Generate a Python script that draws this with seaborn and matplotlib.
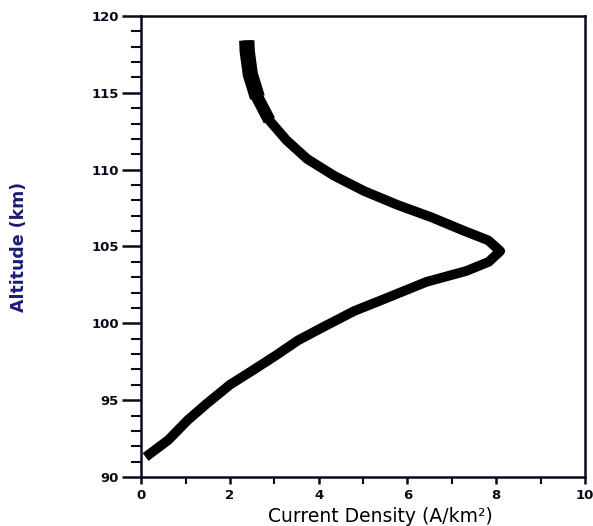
import matplotlib
matplotlib.use("Agg")
import matplotlib.pyplot as plt
from matplotlib.ticker import MultipleLocator
import seaborn as sns
import pandas as pd

# Data
current_density = [0.10, 0.61, 1.05, 1.49, 2.00, 2.52, 3.03, 3.54, 4.13, 4.80,
                   5.45, 6.43, 7.32, 7.83, 8.09, 7.82, 7.29, 6.54, 5.78, 5.03,
                   4.35, 3.74, 3.28, 2.89, 2.62, 2.46, 2.39, 2.38]
altitude = [91.3, 92.4, 93.7, 94.8, 96.0, 96.95, 97.9, 98.9, 99.8, 100.8,
            101.55, 102.7, 103.4, 104.0, 104.7, 105.4, 106.0, 106.9, 107.7, 108.6,
            109.6, 110.7, 111.9, 113.2, 114.7, 116.2, 117.7, 118.4]
x_ticks = [0, 2, 4, 6, 8, 10]
y_ticks = [90, 95, 100, 105, 110, 115, 120]
y_tick_labels = ["90", "95", "100", "105", "110", "115", "120"]

df = pd.DataFrame({"cd": current_density, "alt": altitude})

sns.set_theme(style="ticks")
plt.rcParams["font.family"] = ["DejaVu Sans"]

fig = plt.figure(figsize=(5.93, 5.26), dpi=100)
ax = fig.add_axes([0.238, 0.0932, 0.7485, 0.8764])

sns.lineplot(data=df, x="cd", y="alt", sort=False, estimator=None,
             color="black", lw=7, ax=ax, solid_capstyle="butt",
             solid_joinstyle="round")
upper = df[df["alt"] >= 113.2]
sns.lineplot(data=upper, x="cd", y="alt", sort=False, estimator=None,
             color="black", lw=9, ax=ax, solid_capstyle="butt",
             solid_joinstyle="round")
upper2 = df[df["alt"] >= 114.7]
sns.lineplot(data=upper2, x="cd", y="alt", sort=False, estimator=None,
             color="black", lw=11, ax=ax, solid_capstyle="butt",
             solid_joinstyle="round")

ax.set_xlim(0, 10)
ax.set_ylim(90, 120)
ax.set_xticks(x_ticks)
ax.set_yticks(y_ticks)
ax.set_yticklabels(y_tick_labels)
ax.xaxis.set_minor_locator(MultipleLocator(1))
ax.yaxis.set_minor_locator(MultipleLocator(1))

for s in ax.spines.values():
    s.set_linewidth(1.8)
    s.set_color("#0a0a1a")

ax.tick_params(axis="y", which="major", direction="out", length=14, width=1.8,
               pad=2, labelsize=9.5, colors="#0a0a1a")
ax.tick_params(axis="y", which="minor", direction="out", length=7, width=1.5,
               colors="#0a0a1a")
ax.tick_params(axis="x", which="major", direction="out", length=5, width=1.8,
               pad=4, labelsize=9.5, colors="#0a0a1a")
ax.tick_params(axis="x", which="minor", direction="out", length=5, width=1.5,
               colors="#0a0a1a")
for lab in ax.get_xticklabels() + ax.get_yticklabels():
    lab.set_fontweight("bold")

ax.set_xlabel("Current Density (A/km²)", fontsize=13.5, color="black")
ax.xaxis.set_label_coords(0.54, -0.066)
ax.set_ylabel("Altitude (km)", fontsize=12.5, color="#1c1c78", fontweight="bold")
ax.yaxis.set_label_coords(-0.255, 0.5)

fig.savefig("out.png", dpi=100)
